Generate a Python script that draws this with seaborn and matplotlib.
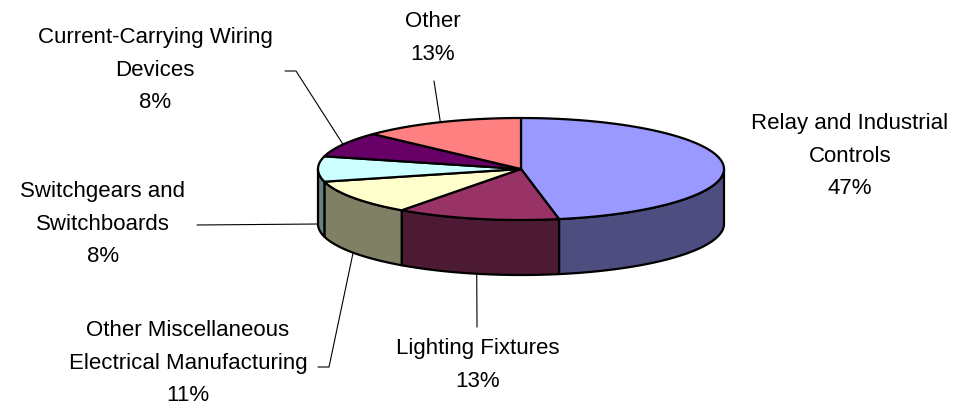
import numpy as np
import matplotlib
matplotlib.use("Agg")
import matplotlib.pyplot as plt
import seaborn as sns
from matplotlib.patches import Polygon

# data, clockwise from 12 o'clock
categories = ["Relay and Industrial\nControls", "Lighting Fixtures",
              "Other Miscellaneous\nElectrical Manufacturing", "Switchgears and\nSwitchboards",
              "Current-Carrying Wiring\nDevices", "Other"]
shares = [47, 13, 11, 8, 8, 13]
top_colors = ["#9999FF", "#993366", "#FFFFCC", "#CCFFFF", "#660066", "#FF8080"]

# layout (pixel space)
CX, CY = 521, 169
RX, RY = 203, 51
DEPTH = 55
label_pos = [(850, 156), (478, 365), (188, 363), (103, 224), (155, 70), (433, 38)]
# leader line start and optional elbow
leaders = [None, [(477, 327)], [(318, 367), (329, 367)], [(197, 225)],
           [(285, 71), (296, 71)], [(434, 81)]]


def darker(c):
    r, g, b = matplotlib.colors.to_rgb(c)
    return (r * 0.5, g * 0.5, b * 0.5)


def ring(a0, a1, n=80):
    t = np.radians(np.linspace(a0, a1, n))
    return CX + RX * np.sin(t), CY - RY * np.cos(t)


sns.set_style("white")
plt.rcParams['font.family'] = ['Liberation Sans', 'DejaVu Sans']

fig = plt.figure(figsize=(9.57, 4.07), dpi=100)
ax = fig.add_axes([0, 0, 1, 1])
ax.set_xlim(0, 957)
ax.set_ylim(407, 0)
ax.axis("off")

bounds = np.concatenate([[0], np.cumsum(shares)]) / sum(shares) * 360

# sides (front half only: 90..270 deg)
for i in range(len(shares)):
    a0, a1 = max(bounds[i], 90), min(bounds[i + 1], 270)
    if a1 <= a0:
        continue
    x, y = ring(a0, a1)
    pts = np.column_stack([np.concatenate([x, x[::-1]]), np.concatenate([y, y[::-1] + DEPTH])])
    ax.add_patch(Polygon(pts, closed=True, facecolor=darker(top_colors[i]),
                         edgecolor="black", lw=1.6, joinstyle="round"))

# top faces
for i in range(len(shares)):
    x, y = ring(bounds[i], bounds[i + 1])
    pts = np.column_stack([np.concatenate([[CX], x]), np.concatenate([[CY], y])])
    ax.add_patch(Polygon(pts, closed=True, facecolor=top_colors[i],
                         edgecolor="black", lw=1.6, joinstyle="round"))

# labels and leader lines
for i, cat in enumerate(categories):
    ax.text(label_pos[i][0], label_pos[i][1], "%s\n%d%%" % (cat, shares[i]),
            ha="center", va="center", fontsize=16, linespacing=1.72, color="black")
    if leaders[i] is None:
        continue
    mid = np.radians((bounds[i] + bounds[i + 1]) / 2)
    ax_x = CX + RX * np.sin(mid)
    ax_y = CY - RY * np.cos(mid)
    if np.cos(mid) <= 0:
        ax_y += DEPTH
    path = leaders[i] + [(ax_x, ax_y)]
    ax.plot([p[0] for p in path], [p[1] for p in path], color="black", lw=0.8)

fig.savefig("out.png", dpi=100)
